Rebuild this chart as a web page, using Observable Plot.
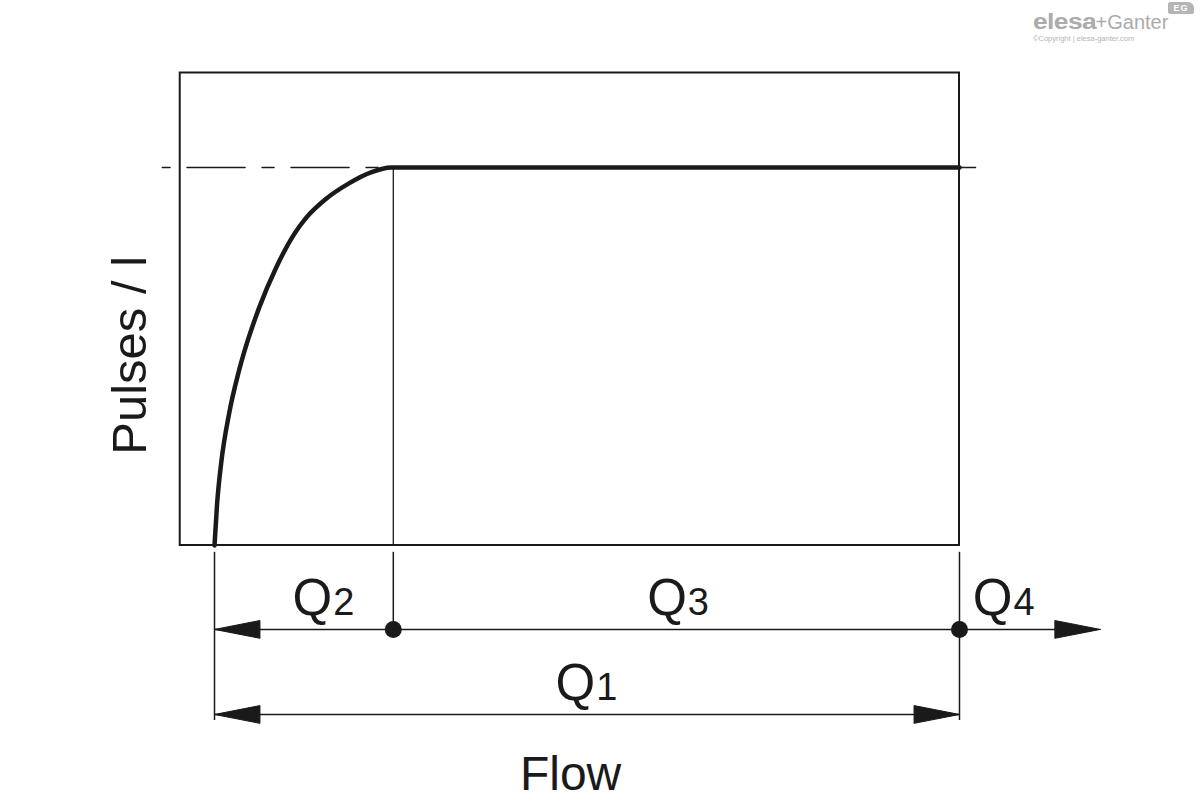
<!DOCTYPE html>
<html>
<head>
<meta charset="utf-8">
<script src="https://cdn.jsdelivr.net/npm/d3@7"></script>
<script src="https://cdn.jsdelivr.net/npm/@observablehq/plot@0.6"></script>
<style>
  html, body { margin: 0; padding: 0; background: #fff; }
  #wrap { position: relative; width: 1200px; height: 809px; overflow: hidden; }
  #logo { position: absolute; left: 1033px; top: 10px; color: #ababab; font-family: "Liberation Sans", Arial, sans-serif; }
  #logo .main { font-size: 20px; line-height: 24px; white-space: nowrap; }
  #logo .elesa { font-size: 22px; font-weight: bold; letter-spacing: -0.5px; display: inline-block; transform: scaleX(1.2); transform-origin: left center; margin-right: 10px; }
  #logo .copy { font-size: 7.5px; line-height: 9px; white-space: nowrap; color: #b5b5b5; }
  #badge { position: absolute; left: 1168px; top: 2px; width: 26px; height: 12px; background: #b5b5b5; border-radius: 2px 6px 2px 2px;
           color: #fff; font: bold 9px/12px "Liberation Sans", Arial, sans-serif; text-align: center; letter-spacing: 1px; }
</style>
</head>
<body>
<div id="wrap">
  <div id="chart"></div>
  <div id="logo"><div class="main"><span class="elesa">elesa</span>+Ganter</div><div class="copy">©Copyright | elesa-ganter.com</div></div>
  <div id="badge">EG</div>
</div>
<script>
// ---- Data (Flow in % of Q1 range, Pulses in % of plateau) ----
const curveFlow   = [0, 0.35, 0.89, 1.96, 3.19, 4.05, 6.01, 8.27, 10.74, 12.35, 15.03, 18.05, 21.0, 23.7, 24, 100];
const curvePulses = [0, 11.1, 21.7, 34.9, 45.5, 51.6, 63.0, 73.5, 82.5, 86.8, 91.8, 95.8, 98.7, 100, 100, 100];

const plateau = 100;          // constant pulses / l value
const qStart = 0;             // start of Q1 / Q2
const q2End = 24;             // Q2 -> Q3 boundary
const q3End = 100;            // Q3 -> Q4 boundary (end of Q1)
const q4ArrowEnd = 118.9;     // end of the Q4 arrow
const refLineStart = -7;      // dash-dot reference line start
const plateauLineEnd = 102.3; // thin continuation of plateau
const frameFlow = [-4.6, 100];
const framePulses = [0, 125];

const dimRowQ = -22.2;        // row of Q2/Q3/Q4 dimension
const dimRowQ1 = -44.7;       // row of Q1 dimension
const extTop = -1.8;
const extBottom = -46.3;

const qLetters = ["Q", "Q", "Q", "Q"];
const qDigits  = ["2", "3", "4", "1"];
const qLabelFlow = [15.8, 63.4, 107.1, 51.1];
const qLabelRow  = [-18.5, -18.5, -18.5, -41.0];

const yTitle = "Pulses / l";
const xTitle = "Flow";

// ---- Derived tables ----
const curve = curveFlow.map((x, i) => ({x, y: curvePulses[i]}));
const labels = qLetters.map((q, i) => ({q, d: qDigits[i], x: qLabelFlow[i], y: qLabelRow[i]}));
const arrowSpecs = [
  {tip: qStart, dir: -1, row: dimRowQ},
  {tip: q4ArrowEnd, dir: 1, row: dimRowQ},
  {tip: qStart, dir: -1, row: dimRowQ1},
  {tip: q3End, dir: 1, row: dimRowQ1}
];
const headLen = 6.1, headHalf = 2.35; // arrow head size in scale units
const heads = arrowSpecs.flatMap((a, i) => [
  {id: i, x: a.tip, y: a.row},
  {id: i, x: a.tip - a.dir * headLen, y: a.row + headHalf},
  {id: i, x: a.tip - a.dir * headLen, y: a.row - headHalf},
  {id: i, x: a.tip, y: a.row}
]);

const ink = "#1a1a1a";
const font = "'Liberation Sans', Arial, sans-serif";

const chart = Plot.plot({
  width: 1200,
  height: 809,
  margin: 0,
  axis: null,
  style: {background: "#fff", fontFamily: font, color: ink},
  x: {domain: [0, 100], range: [214, 959]},
  y: {domain: [0, 100], range: [545, 167]},
  marks: [
    // frame
    Plot.rect([{x1: frameFlow[0], x2: frameFlow[1], y1: framePulses[0], y2: framePulses[1]}],
      {x1: "x1", x2: "x2", y1: "y1", y2: "y2", fill: "none", stroke: ink, strokeWidth: 2}),
    // dash-dot reference line
    Plot.line([{x: refLineStart, y: plateau}, {x: q2End, y: plateau}],
      {x: "x", y: "y", stroke: ink, strokeWidth: 1.5, strokeDasharray: "58,17,12,17", strokeDashoffset: 79.3}),
    // thin plateau continuation
    Plot.ruleY([plateau], {x1: q2End, x2: plateauLineEnd, stroke: ink, strokeWidth: 1.5}),
    // vertical boundary at Q2 end
    Plot.ruleX([q2End], {y1: 0, y2: plateau, stroke: ink, strokeWidth: 1.3}),
    // the curve
    Plot.line(curve, {x: "x", y: "y", curve: "monotone-x", stroke: ink, strokeWidth: 4.5, strokeLinejoin: "round"}),
    // extension lines of the dimensions
    Plot.ruleX([{x: qStart, y2: extBottom}, {x: q2End, y2: dimRowQ}, {x: q3End, y2: extBottom}],
      {x: "x", y1: extTop, y2: "y2", stroke: ink, strokeWidth: 1.5}),
    // dimension lines
    Plot.ruleY([{y: dimRowQ, x1: qStart, x2: q4ArrowEnd - 2}, {y: dimRowQ1, x1: qStart, x2: q3End}],
      {y: "y", x1: "x1", x2: "x2", stroke: ink, strokeWidth: 1.5}),
    // arrow heads
    Plot.line(heads, {x: "x", y: "y", z: "id", fill: ink, stroke: ink, strokeWidth: 1}),
    // dots
    Plot.dot([q2End, q3End], {x: d => d, y: dimRowQ, r: 8.5, fill: ink, stroke: "none"}),
    // Q labels
    Plot.text(labels, {x: "x", y: "y", text: "q", textAnchor: "end", lineAnchor: "bottom", fontSize: 51, fill: ink}),
    Plot.text(labels, {x: "x", y: "y", text: "d", textAnchor: "start", lineAnchor: "bottom", fontSize: 38, dx: 1, fill: ink}),
    // axis titles
    Plot.text([yTitle], {x: -9.26, y: 50.3, rotate: -90, textAnchor: "middle", lineAnchor: "bottom", fontSize: 49, fill: ink}),
    Plot.text([xTitle], {x: 47.8, y: -64.8, textAnchor: "middle", lineAnchor: "bottom", fontSize: 48, fill: ink})
  ]
});
document.getElementById("chart").appendChild(chart);
</script>
</body>
</html>
